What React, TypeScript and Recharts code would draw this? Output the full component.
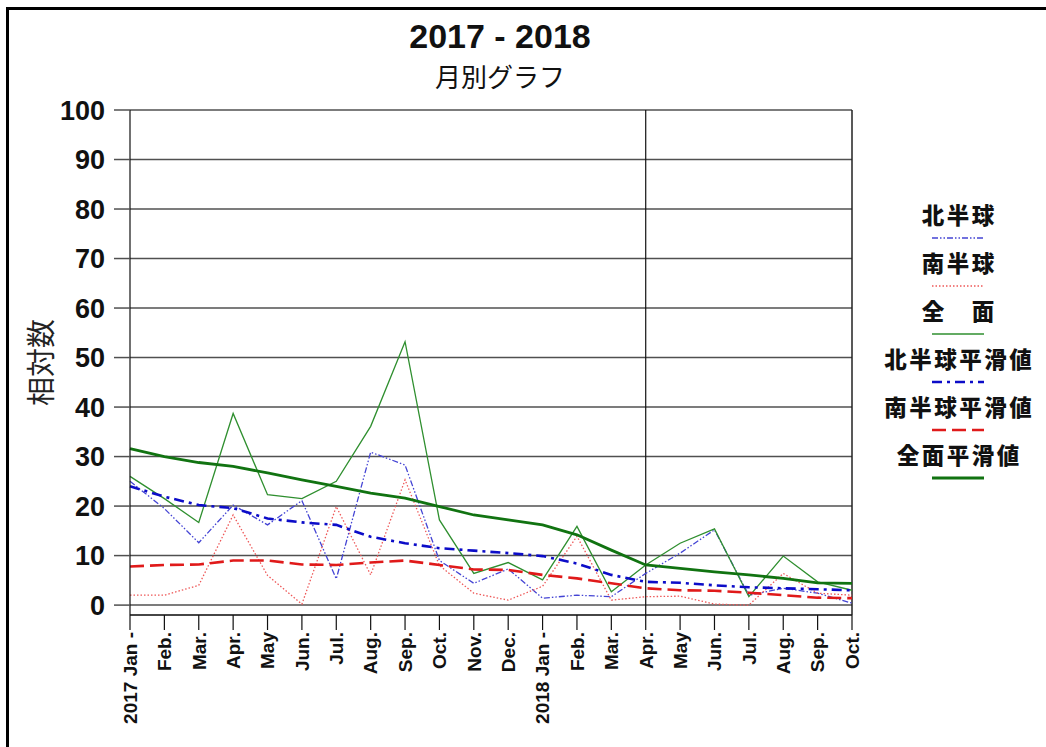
import React from "react";
import {
  LineChart,
  Line,
  XAxis,
  YAxis,
  CartesianGrid,
  ReferenceLine,
  Legend
} from "recharts";

// month keys (unique) and the labels shown under the axis
const MONTHS = [
  "2017-01", "2017-02", "2017-03", "2017-04", "2017-05", "2017-06",
  "2017-07", "2017-08", "2017-09", "2017-10", "2017-11", "2017-12",
  "2018-01", "2018-02", "2018-03", "2018-04", "2018-05", "2018-06",
  "2018-07", "2018-08", "2018-09", "2018-10"
];
const TICK_LABELS = [
  "2017 Jan -", "Feb.", "Mar.", "Apr.", "May", "Jun.", "Jul.", "Aug.", "Sep.", "Oct.", "Nov.", "Dec.",
  "2018 Jan -", "Feb.", "Mar.", "Apr.", "May", "Jun.", "Jul.", "Aug.", "Sep.", "Oct."
];

const NORTH = [25, 19.5, 12.6, 20.2, 16.2, 21.1, 5.3, 30.9, 28.3, 9, 4.4, 7.3, 1.4, 2, 1.7, 6.4, 10.5, 15.2, 2, 3.4, 2.4, 0.4];
const SOUTH = [2, 2, 4, 18.2, 6, 0.2, 19.9, 6.1, 25.3, 8, 2.4, 1, 3.8, 13.9, 1, 1.7, 1.8, 0.2, 0, 6.4, 2.4, 2];
const TOTAL = [26, 21.5, 16.7, 38.7, 22.3, 21.5, 25, 36.1, 53.2, 17.2, 6.4, 8.6, 5.1, 15.9, 2.7, 8.1, 12.5, 15.4, 1.7, 9.9, 4.7, 3];
const NORTH_SMOOTH = [24, 21.9, 20.2, 19.6, 17.5, 16.7, 16.2, 13.8, 12.5, 11.5, 11, 10.5, 9.9, 8.4, 6.1, 4.7, 4.5, 4, 3.6, 3.4, 3.2, 3];
const SOUTH_SMOOTH = [7.8, 8.1, 8.2, 9, 9, 8.2, 8.1, 8.6, 9, 8.1, 7.2, 7.1, 6.1, 5.4, 4.4, 3.4, 3, 2.9, 2.5, 2, 1.5, 1.4];
const TOTAL_SMOOTH = [31.6, 30, 28.8, 28, 26.7, 25.3, 24, 22.6, 21.6, 19.9, 18.2, 17.2, 16.2, 14.2, 11.1, 8.1, 7.4, 6.7, 6.1, 5.4, 4.5, 4.4];

const Y_TICKS = [0, 10, 20, 30, 40, 50, 60, 70, 80, 90, 100];

const SERIES = [
  { key: "north", name: "北半球", color: "#4444d4", width: 1.3, dash: "6 2 1.5 2 1.5 2" },
  { key: "south", name: "南半球", color: "#ee5858", width: 1.3, dash: "1.5 2" },
  { key: "total", name: "全　面", color: "#2f8f2f", width: 1.3, dash: undefined },
  { key: "northSmooth", name: "北半球平滑値", color: "#0c0cc8", width: 2.6, dash: "10 5 3 5" },
  { key: "southSmooth", name: "南半球平滑値", color: "#e01a1a", width: 2.6, dash: "14 6" },
  { key: "totalSmooth", name: "全面平滑値", color: "#117311", width: 2.8, dash: undefined }
];

const data = MONTHS.map((m, i) => ({
  month: m,
  north: NORTH[i],
  south: SOUTH[i],
  total: TOTAL[i],
  northSmooth: NORTH_SMOOTH[i],
  southSmooth: SOUTH_SMOOTH[i],
  totalSmooth: TOTAL_SMOOTH[i]
}));

const LATIN = '"Liberation Sans", Arial, sans-serif';
const CJK = '"Noto Sans CJK JP", "Noto Sans", sans-serif';

function MonthTick({ x, y, payload }: any) {
  const label = TICK_LABELS[MONTHS.indexOf(payload.value)];
  return (
    <text
      x={x}
      y={y}
      transform={`rotate(-90 ${x} ${y})`}
      textAnchor="end"
      dy="0.36em"
      fontFamily={LATIN}
      fontWeight={700}
      fontSize={19}
      fill="#111"
    >
      {label}
    </text>
  );
}

function YTitle({ viewBox }: any) {
  const cx = viewBox.x - 8;
  const cy = viewBox.y + viewBox.height / 2;
  return (
    <text
      x={cx}
      y={cy}
      transform={`rotate(-90 ${cx} ${cy})`}
      textAnchor="middle"
      dy="0.36em"
      fontFamily={CJK}
      fontSize={29}
      fill="#222"
    >
      相対数
    </text>
  );
}

function LegendBox() {
  return (
    <div style={{ display: "flex", flexDirection: "column", alignItems: "center" }}>
      {SERIES.map(s => (
        <div key={s.key} style={{ height: 48, display: "flex", flexDirection: "column", alignItems: "center" }}>
          <div
            style={{
              height: 24,
              lineHeight: "24px",
              fontFamily: CJK,
              fontSize: 22.5,
              fontWeight: 900,
              letterSpacing: 2.5,
              paddingLeft: 2.5,
              color: "#111",
              whiteSpace: "pre"
            }}
          >
            {s.name}
          </div>
          <svg width={52} height={24}>
            <line x1={0} x2={52} y1={12} y2={12} stroke={s.color} strokeWidth={s.width} strokeDasharray={s.dash} />
          </svg>
        </div>
      ))}
    </div>
  );
}

export default function App() {
  return (
    <div style={{ position: "absolute", left: 0, top: 0, width: 1046, height: 747, overflow: "hidden", background: "#fff" }}>
      <div
        style={{
          position: "absolute",
          left: 6,
          top: 7,
          width: 1200,
          height: 900,
          borderLeft: "3px solid #000",
          borderTop: "3px solid #000"
        }}
      />
      <div
        style={{
          position: "absolute",
          left: 300,
          width: 400,
          top: 19,
          textAlign: "center",
          fontFamily: LATIN,
          fontWeight: 700,
          fontSize: 34,
          lineHeight: "34px",
          color: "#111"
        }}
      >
        2017 - 2018
      </div>
      <div
        style={{
          position: "absolute",
          left: 300,
          width: 400,
          top: 63,
          textAlign: "center",
          fontFamily: CJK,
          fontSize: 26,
          lineHeight: "26px",
          color: "#111"
        }}
      >
        月別グラフ
      </div>
      <div style={{ position: "absolute", left: 0, top: 0 }}>
        <LineChart width={1046} height={747} data={data} margin={{ top: 110, right: 194, left: 50, bottom: 12 }}>
          <CartesianGrid vertical={false} stroke="#505050" strokeWidth={1.5} />
          <XAxis
            dataKey="month"
            interval={0}
            height={120}
            tickSize={15}
            tickMargin={2}
            tick={<MonthTick />}
            axisLine={{ stroke: "#111", strokeWidth: 1.2 }}
            tickLine={{ stroke: "#111", strokeWidth: 1.2 }}
          />
          <YAxis
            domain={[-2, 100]}
            ticks={Y_TICKS}
            allowDataOverflow
            width={80}
            tickSize={16}
            tickMargin={9}
            axisLine={{ stroke: "#111", strokeWidth: 1.2 }}
            tickLine={{ stroke: "#505050", strokeWidth: 1.5 }}
            tick={{ fontFamily: LATIN, fontWeight: 700, fontSize: 27, fill: "#111" }}
            label={{ content: YTitle }}
          />
          <ReferenceLine x={MONTHS[15]} stroke="#111" strokeWidth={1.2} />
          <ReferenceLine x={MONTHS[MONTHS.length - 1]} stroke="#222" strokeWidth={1.5} />
          <Legend
            layout="vertical"
            align="center"
            verticalAlign="middle"
            wrapperStyle={{ left: 860, top: 202, width: 196 }}
            content={() => <LegendBox />}
          />
          {SERIES.map(s => (
            <Line
              key={s.key}
              type="linear"
              dataKey={s.key}
              name={s.name}
              stroke={s.color}
              strokeWidth={s.width}
              strokeDasharray={s.dash}
              dot={false}
              activeDot={false}
              isAnimationActive={false}
            />
          ))}
        </LineChart>
      </div>
    </div>
  );
}
